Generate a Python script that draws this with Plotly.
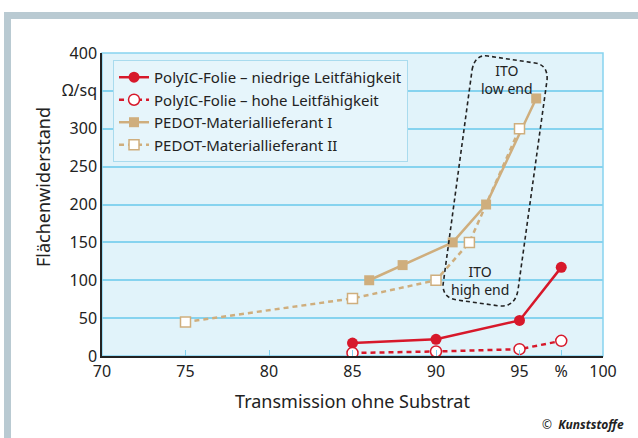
import plotly.graph_objects as go

# Data
red_low_x = [85, 90, 95, 97.5]
red_low_y = [17, 22, 47, 117]
red_high_x = [85, 90, 95, 97.5]
red_high_y = [4, 6, 9, 20]
pedot1_x = [86, 88, 91, 93, 96]
pedot1_y = [100, 120, 150, 200, 340]
pedot2_x = [75, 85, 90, 92, 95]
pedot2_y = [45, 76, 100, 150, 300]

x_tickvals = [70, 75, 80, 85, 90, 95, 97.5, 100]
x_ticktext = ["70", "75", "80", "85", "90", "95", "%", "100"]
y_tickvals = [0, 50, 100, 150, 200, 250, 300, 350, 400]
y_ticktext = ["0", "50", "100", "150", "200", "250", "300", "Ω/sq", "400"]

names = ["PolyIC-Folie – niedrige Leitfähigkeit",
         "PolyIC-Folie – hohe Leitfähigkeit",
         "PEDOT-Materiallieferant I",
         "PEDOT-Materiallieferant II"]

RED = "#d7182a"
TAN = "#cfae7d"
FONT = "Noto Sans"
TXT = "#222222"

fig = go.Figure()
fig.add_trace(go.Scatter(x=red_low_x, y=red_low_y, name=names[0], mode="lines+markers",
                         line=dict(color=RED, width=2.5),
                         marker=dict(symbol="circle", size=11, color=RED)))
fig.add_trace(go.Scatter(x=red_high_x, y=red_high_y, name=names[1], mode="lines+markers",
                         line=dict(color=RED, width=2.5, dash="5px,4px"),
                         marker=dict(symbol="circle", size=11, color="white",
                                     line=dict(color=RED, width=1.5))))
fig.add_trace(go.Scatter(x=pedot1_x, y=pedot1_y, name=names[2], mode="lines+markers",
                         line=dict(color=TAN, width=2.5),
                         marker=dict(symbol="square", size=10, color=TAN)))
fig.add_trace(go.Scatter(x=pedot2_x, y=pedot2_y, name=names[3], mode="lines+markers",
                         line=dict(color=TAN, width=2.5, dash="5px,4px"),
                         marker=dict(symbol="square", size=10, color="white",
                                     line=dict(color=TAN, width=1.5))))

# ITO dashed rounded box (data coords)
path = ("M 92.16 377.6 Q 92.34 398.7 93.11 396.0 L 95.93 386.8 Q 96.71 384.2 96.65 364.4 "
        "L 94.91 87.1 Q 94.73 64.7 93.83 66.0 L 91.26 73.9 Q 90.42 76.6 90.42 93.7 Z")
shapes = [
    # light blue plot border
    dict(type="rect", xref="paper", yref="paper", x0=0, x1=1, y0=0, y1=1,
         line=dict(color="#86d3ef", width=1.5), layer="below"),
    dict(type="path", path=path, xref="x", yref="y",
         line=dict(color="#222222", width=1.6, dash="4px,3px")),
    # gray frame top
    dict(type="rect", xref="paper", yref="paper", x0=(4-102)/501, x1=(640-102)/501,
         y0=(356-19)/303, y1=(356-12)/303, fillcolor="#b9cad2", line=dict(width=0), layer="below"),
    # gray frame left
    dict(type="rect", xref="paper", yref="paper", x0=(4-102)/501, x1=(11-102)/501,
         y0=(356-440)/303, y1=(356-12)/303, fillcolor="#b9cad2", line=dict(width=0), layer="below"),
]

ann_font = dict(family=FONT, size=14, color=TXT)
annotations = [
    dict(x=94.23, y=364.8, xref="x", yref="y", text="ITO<br>low end", showarrow=False,
         font=ann_font, align="center", borderpad=0),
    dict(x=92.63, y=100.3, xref="x", yref="y", text="ITO<br>high end", showarrow=False,
         font=ann_font, align="center", borderpad=0),
    dict(x=(626-102)/501, y=(356-424)/303, xref="paper", yref="paper",
         xanchor="right", yanchor="middle",
         text="©  <b><i>Kunststoffe</i></b>", showarrow=False,
         font=dict(family=FONT, size=12, color=TXT)),
    dict(x=(43-102)/501, y=(356-187)/303, xref="paper", yref="paper",
         xanchor="center", yanchor="middle", textangle=-90,
         text="Flächenwiderstand", showarrow=False,
         font=dict(family=FONT, size=18, color=TXT)),
]

fig.update_layout(
    width=638, height=438,
    margin=dict(l=102, r=35, t=53, b=82),
    paper_bgcolor="white",
    plot_bgcolor="#e1f3fa",
    font=dict(family=FONT, color=TXT, size=15),
    shapes=shapes,
    annotations=annotations,
    legend=dict(x=0.022, y=0.977, xanchor="left", yanchor="top",
                bgcolor="#e6f5fb", bordercolor="#a9dbee", borderwidth=1,
                font=dict(family=FONT, size=15, color=TXT), tracegroupgap=0),
    xaxis=dict(range=[70, 100], tickvals=x_tickvals, ticktext=x_ticktext,
               showgrid=False, zeroline=False, showline=True, linecolor="#222222", linewidth=1.5,
               ticks="inside", ticklen=6, tickcolor="#7fd0ee", tickwidth=1,
               mirror=False, tickfont=dict(size=16),
               title=dict(text="Transmission ohne Substrat", font=dict(size=18), standoff=14)),
    yaxis=dict(range=[0, 400], tickvals=y_tickvals, ticktext=y_ticktext,
               showgrid=True, gridcolor="#86d3ef", gridwidth=1.5, zeroline=False,
               showline=True, linecolor="#222222", linewidth=1.5,
               tickfont=dict(size=16)),
)

fig.write_html("out.html", config={"displayModeBar": False},
               post_script="document.body.style.margin='0';document.body.style.padding='0';")
